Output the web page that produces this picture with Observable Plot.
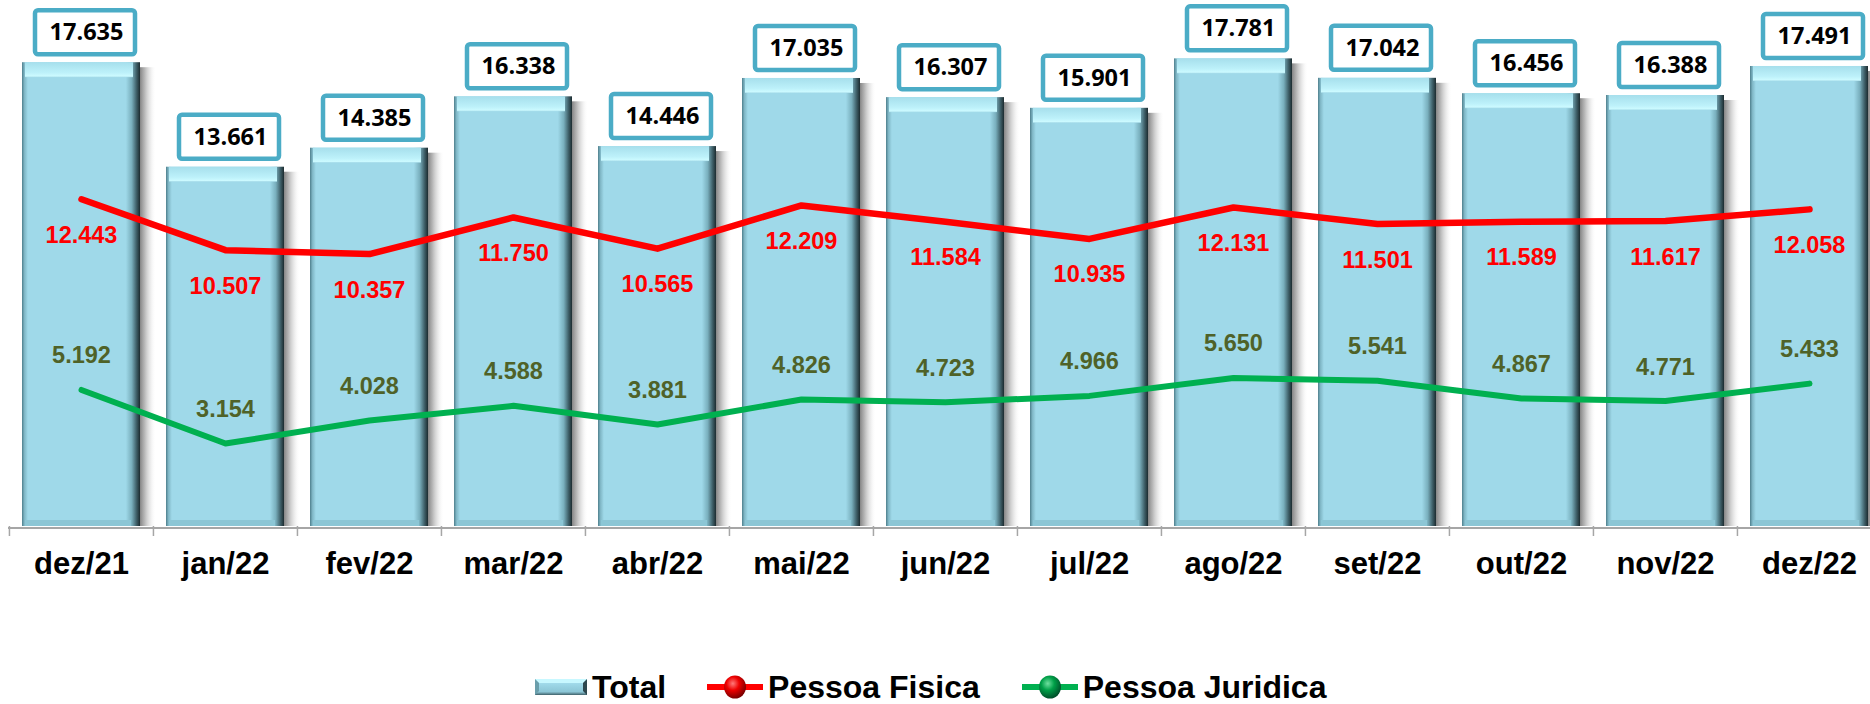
<!DOCTYPE html>
<html>
<head>
<meta charset="utf-8">
<script src="https://cdn.jsdelivr.net/npm/d3@7"></script>
<script src="https://cdn.jsdelivr.net/npm/@observablehq/plot@0.6"></script>
<style>
  html, body { margin: 0; padding: 0; background: #fff; overflow: hidden; width: 1870px; height: 704px; }
  #chart { position: relative; width: 1870px; height: 704px; }
  #chart svg.plot-root { position: absolute; left: 0; top: 0; }
  .legend { position: absolute; left: 535px; top: 667px; height: 40px; display: flex; align-items: center;
            font-family: "Liberation Sans", Arial, sans-serif; font-weight: 700; font-size: 32px; line-height: 40px; color: #000; white-space: nowrap; }
  .legend .item { display: flex; align-items: center; }
  .legend svg { display: block; }
</style>
</head>
<body>
<div id="chart"></div>
<script>
// ---- data ----
const months = ["dez/21","jan/22","fev/22","mar/22","abr/22","mai/22","jun/22","jul/22","ago/22","set/22","out/22","nov/22","dez/22"];
const total = [17635,13661,14385,16338,14446,17035,16307,15901,17781,17042,16456,16388,17491];
const pessoaFisica = [12443,10507,10357,11750,10565,12209,11584,10935,12131,11501,11589,11617,12058];
const pessoaJuridica = [5192,3154,4028,4588,3881,4826,4723,4966,5650,5541,4867,4771,5433];
const seriesNames = ["Total","Pessoa Fisica","Pessoa Juridica"];

const rows = months.map((m, i) => ({month: m, total: total[i], pf: pessoaFisica[i], pj: pessoaJuridica[i]}));
const fmt = d3.formatLocale({decimal: ",", thousands: ".", grouping: [3], currency: ["R$", ""]}).format(",d");

const W = 1870, H = 650, plotBottom = 526;
const step = 144.1;
const sans = "'Liberation Sans', Arial, sans-serif";

const plot = Plot.plot({
  width: W,
  height: H,
  marginTop: 0,
  marginLeft: 8,
  marginRight: 0,
  marginBottom: H - plotBottom,
  x: {domain: months, range: [8, 8 + 13 * step], paddingInner: 0.18, paddingOuter: 0.09, axis: null},
  y: {domain: [0, 20000], axis: null},
  marks: [
    // soft shadow to the right of each bar (horizontal fade)
    Plot.barY(rows, {x: "month", y: "total", fill: "url(#shadowGrad)", dx: 16, insetTop: 5}),
    Plot.barY(rows, {x: "month", y: "total", fill: "url(#barGrad)"}),
    Plot.barY(rows, {x: "month", y1: "total", y2: "total", insetBottom: -15, insetLeft: 3, insetRight: 7, fill: "url(#topGrad)"}),
    Plot.barY(rows, {x: "month", y1: 0, y2: 0, insetTop: -6, insetLeft: 3, insetRight: 9, fill: "#8cc6d5"}),
    Plot.ruleY([0], {stroke: "#a6a6a6", strokeWidth: 2, dy: 1.5}),
    Plot.ruleX(months, {x: d => d, y1: 0, y2: -380, dx: -step / 2, stroke: "#a6a6a6", strokeWidth: 1.5}),
    Plot.line(rows, {x: "month", y: "pf", stroke: "#000", strokeOpacity: 0.3, strokeWidth: 6, dx: 2, dy: 4, strokeLinecap: "round", ariaLabel: "line-shadow"}),
    Plot.line(rows, {x: "month", y: "pj", stroke: "#000", strokeOpacity: 0.3, strokeWidth: 6, dx: 2, dy: 4, strokeLinecap: "round", ariaLabel: "line-shadow"}),
    Plot.line(rows, {x: "month", y: "pf", stroke: "#ff0000", strokeWidth: 6.5, strokeLinecap: "round", strokeLinejoin: "round"}),
    Plot.line(rows, {x: "month", y: "pj", stroke: "#00b050", strokeWidth: 6, strokeLinecap: "round", strokeLinejoin: "round"}),
    Plot.text(rows, {x: "month", y: "pf", dy: 36, text: d => fmt(d.pf), fill: "#ff0000", fontSize: 23.5, fontWeight: 700, fontFamily: sans}),
    Plot.text(rows, {x: "month", y: "pj", dy: -34, text: d => fmt(d.pj), fill: "#4f6228", fontSize: 23.5, fontWeight: 700, fontFamily: sans}),
    Plot.barY(rows, {x: "month", y1: "total", y2: "total", insetTop: -52, insetBottom: 8, insetLeft: 13, insetRight: 5,
                     fill: "#fff", stroke: "#4bacc6", strokeWidth: 4.5, rx: 3}),
    Plot.text(rows, {x: "month", y: "total", dy: -30, dx: 5, text: d => fmt(d.total), fill: "#000", fontSize: 23.5, fontWeight: 700, fontFamily: "'Open Sans', sans-serif"}),
    Plot.text(months, {x: d => d, y: 0, dy: 38, text: d => d, fill: "#000", fontSize: 31, fontWeight: 700, fontFamily: sans})
  ]
});
plot.classList.add("plot-root");

const svgSel = d3.select(plot);
const defs = svgSel.insert("defs", ":first-child");
const barGrad = defs.append("linearGradient").attr("id", "barGrad").attr("x1", 0).attr("x2", 1).attr("y1", 0).attr("y2", 0);
[[0, "#4e7f8c"], [0.02, "#7fb6c5"], [0.05, "#9fd9e9"], [0.88, "#9fd9e9"], [0.93, "#79afbd"], [0.97, "#3f6069"], [1, "#1c2b2f"]]
  .forEach(([o, c]) => barGrad.append("stop").attr("offset", o).attr("stop-color", c));
const topGrad = defs.append("linearGradient").attr("id", "topGrad").attr("x1", 0).attr("x2", 0).attr("y1", 0).attr("y2", 1);
[[0, "#a6dfec"], [0.7, "#bdf1fa"], [0.92, "#ccfaff"], [1, "#a9deeb"]]
  .forEach(([o, c]) => topGrad.append("stop").attr("offset", o).attr("stop-color", c));
const shadowGrad = defs.append("linearGradient").attr("id", "shadowGrad").attr("x1", 0).attr("x2", 1).attr("y1", 0).attr("y2", 0);
[[0, "#707070", 0.9], [0.86, "#707070", 0.9], [0.9, "#9a9a9a", 0.75], [0.95, "#d0d0d0", 0.45], [1, "#ffffff", 0]]
  .forEach(([o, c, a]) => shadowGrad.append("stop").attr("offset", o).attr("stop-color", c).attr("stop-opacity", a));
const blurB = defs.append("filter").attr("id", "blurLine").attr("filterUnits", "userSpaceOnUse")
  .attr("x", 0).attr("y", 0).attr("width", W).attr("height", H);
blurB.append("feGaussianBlur").attr("stdDeviation", 2.5);
svgSel.selectAll('g[aria-label="line-shadow"]').attr("filter", "url(#blurLine)");

const chart = document.getElementById("chart");
chart.appendChild(plot);

const legend = document.createElement("div");
legend.className = "legend";
const swatches = [
  `<svg width="52" height="16" viewBox="0 0 52 16">
     <defs><linearGradient id="lgBar" x1="0" x2="0" y1="0" y2="1">
       <stop offset="0" stop-color="#b9eef8"/><stop offset="0.3" stop-color="#9fd9e9"/><stop offset="0.8" stop-color="#8cc6d6"/><stop offset="1" stop-color="#3f6069"/></linearGradient></defs>
     <rect x="0" y="0" width="52" height="16" fill="url(#lgBar)"/>
     <polygon points="0,0 52,0 48,4 4,4" fill="#c8f8ff"/>
     <polygon points="52,0 52,16 48,12 48,4" fill="#2e474e"/>
     <polygon points="0,0 4,4 4,12 0,16" fill="#6a9eab"/>
   </svg>`,
  `<svg width="56" height="24" viewBox="0 0 56 24">
     <defs><radialGradient id="lgRed" cx="0.4" cy="0.35" r="0.65">
       <stop offset="0" stop-color="#ff7a7a"/><stop offset="0.45" stop-color="#ee0000"/><stop offset="1" stop-color="#7a0000"/></radialGradient></defs>
     <line x1="0" x2="56" y1="12" y2="12" stroke="#ff0000" stroke-width="6" stroke-linecap="round"/>
     <ellipse cx="28" cy="12" rx="11" ry="11.5" fill="url(#lgRed)"/>
   </svg>`,
  `<svg width="56" height="24" viewBox="0 0 56 24">
     <defs><radialGradient id="lgGreen" cx="0.4" cy="0.35" r="0.65">
       <stop offset="0" stop-color="#6fe09f"/><stop offset="0.45" stop-color="#00a048"/><stop offset="1" stop-color="#00502a"/></radialGradient></defs>
     <line x1="0" x2="56" y1="12" y2="12" stroke="#00b050" stroke-width="6" stroke-linecap="round"/>
     <ellipse cx="28" cy="12" rx="11" ry="11.5" fill="url(#lgGreen)"/>
   </svg>`
];
const gaps = [0, 41, 42];
seriesNames.forEach((name, i) => {
  const item = document.createElement("div");
  item.className = "item";
  item.style.marginLeft = gaps[i] + "px";
  item.innerHTML = swatches[i] + `<span style="margin-left:5px">${name}</span>`;
  legend.appendChild(item);
});
chart.appendChild(legend);
</script>
</body>
</html>
